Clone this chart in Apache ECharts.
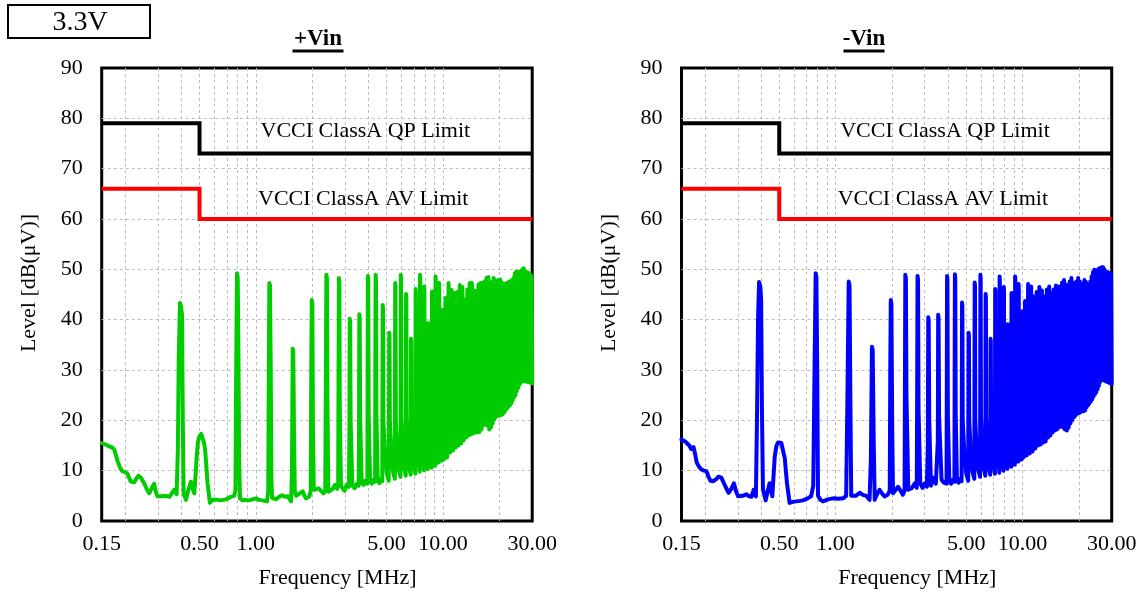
<!DOCTYPE html>
<html>
<head>
<meta charset="utf-8">
<script src="https://cdn.jsdelivr.net/npm/echarts@6/dist/echarts.min.js"></script>
<style>
html,body{margin:0;padding:0;background:#fff;}
#chart{width:1142px;height:598px;}
</style>
</head>
<body>
<div id="chart"></div>
<script>
// ---- data ----
const panelTitles = ['+Vin', '-Vin'];
const voltageTag = '3.3V';
const xTickLabels = [0.15, 0.5, 1, 5, 10, 30];
const xGridValues = [0.2, 0.3, 0.4, 0.5, 0.6, 0.7, 0.8, 0.9, 1, 2, 3, 4, 5, 6, 7, 8, 9, 10, 20];
const qpLimit = [[0.15, 79], [0.5, 79], [0.5, 73], [30, 73]];
const avLimit = [[0.15, 66], [0.5, 66], [0.5, 60], [30, 60]];
const qpLabel = ['VCCI ClassA QP Limit', 3.85, 77.4];
const avLabel = ['VCCI ClassA AV Limit', 3.75, 64.0];

const plusVinTrace = [
[0.150,15.5],[0.157,15.2],[0.165,14.8],[0.171,14.6],[0.175,14.2],[0.182,12.0],[0.188,10.6],[0.193,9.9],[0.200,9.7],[0.206,9.4],[0.214,7.9],[0.224,7.7],[0.231,8.6],[0.236,9.0],[0.243,8.6],[0.248,8.4],[0.253,7.5],[0.262,6.2],[0.269,5.5],[0.278,6.6],[0.286,7.4],[0.291,6.0],[0.298,4.9],[0.310,4.9],[0.331,5.0],[0.345,4.8],[0.352,4.7],[0.366,6.2],[0.377,5.3],[0.383,14.0],[0.387,32.0],[0.393,43.3],[0.398,42.6],[0.403,41.0],[0.407,20.0],[0.411,5.5],[0.423,4.2],[0.433,5.8],[0.441,6.8],[0.450,7.8],[0.460,6.4],[0.469,5.5],[0.476,9.0],[0.483,12.8],[0.490,15.6],[0.499,16.8],[0.510,17.3],[0.519,17.0],[0.528,15.6],[0.536,14.1],[0.552,7.5],[0.568,3.6],[0.585,4.2],[0.599,4.5],[0.625,4.2],[0.650,4.1],[0.691,4.3],[0.735,4.8],[0.766,5.0],[0.778,6.0],[0.785,30.0],[0.793,49.2],[0.800,48.4],[0.806,36.0],[0.814,12.0],[0.823,4.5],[0.849,4.1],[0.880,4.2],[0.923,4.1],[0.960,4.3],[1.002,4.5],[1.040,4.2],[1.088,4.1],[1.148,3.9],[1.165,6.0],[1.173,30.0],[1.181,47.3],[1.190,46.8],[1.200,32.0],[1.212,8.0],[1.221,4.6],[1.283,4.3],[1.330,4.8],[1.380,5.1],[1.430,4.8],[1.480,4.9],[1.543,3.9],[1.560,10.0],[1.574,34.2],[1.585,33.6],[1.600,17.0],[1.615,6.0],[1.641,5.0],[1.700,5.4],[1.780,5.9],[1.820,5.0],[1.857,4.5],[1.933,4.9],[1.965,6.0],[1.978,30.0],[1.990,43.9],[2.005,43.2],[2.020,18.0],[2.040,6.2],[2.100,6.3],[2.160,6.5],[2.230,6.0],[2.300,5.5],[2.350,6.0],[2.368,30.0],[2.382,48.9],[2.398,48.2],[2.412,25.0],[2.440,5.8],[2.500,6.0],[2.580,6.4],[2.650,7.2],[2.720,6.4],[2.755,7.0],[2.768,30.0],[2.779,48.3],[2.795,47.6],[2.810,22.0],[2.850,7.0],[2.920,6.4],[2.980,6.0],[3.060,7.2],[3.140,6.8],[3.160,14.0],[3.176,40.2],[3.192,39.6],[3.210,20.0],[3.280,7.0],[3.370,6.5],[3.470,7.4],[3.545,7.0],[3.560,16.0],[3.573,41.1],[3.590,40.4],[3.610,20.5],[3.680,7.6],[3.770,7.2],[3.850,8.0],[3.945,7.4],[3.958,30.0],[3.970,48.7],[3.988,48.0],[4.010,21.0],[4.080,8.0],[4.170,7.4],[4.260,8.2],[4.340,7.8],[4.352,30.0],[4.367,48.9],[4.385,48.2],[4.410,21.0],[4.480,8.2],[4.570,7.5],[4.660,8.4],[4.740,7.9],
[4.752,25.0],[4.764,42.9],[4.782,42.2],[4.805,20.0],[4.890,14.0],[5.010,9.5],[5.130,8.0],
[5.150,22.0],[5.161,37.4],[5.180,36.8],[5.202,20.0],[5.290,14.0],[5.410,9.8],[5.530,8.4],
[5.546,30.0],[5.558,47.3],[5.578,46.6],[5.600,20.0],[5.690,14.0],[5.810,10.2],[5.930,8.8],
[5.943,30.0],[5.955,48.9],[5.975,48.2],[5.997,20.5],[6.085,14.5],[6.205,10.5],[6.325,9.0],
[6.340,30.0],[6.352,45.1],[6.372,44.4],[6.394,20.5],[6.480,14.5],[6.600,10.7],[6.720,9.2],
[6.737,22.0],[6.749,36.2],[6.770,35.6],[6.790,21.0],[6.880,15.0],[7.000,11.0],[7.120,9.4],
[7.134,30.0],[7.146,46.1],[7.168,45.4],[7.188,24.0],[7.276,19.0],[7.396,13.8],[7.516,9.8],
[7.531,30.0],[7.543,48.9],[7.565,48.2],[7.585,24.0],[7.673,19.0],[7.793,14.1],[7.913,10.1],
[7.928,30.0],[7.940,46.6],[7.962,45.9],[7.982,24.5],[8.070,19.5],[8.190,14.3],[8.310,10.3],
[8.325,25.0],[8.337,39.3],[8.360,38.6],[8.380,24.5],[8.467,19.5],[8.587,14.6],[8.707,10.6],
[8.722,30.0],[8.734,45.6],[8.757,44.9],[8.777,25.0],[8.864,20.0],[8.984,15.0],[9.104,11.0],
[9.119,30.0],[9.131,48.6],[9.155,47.9],[9.175,25.0],[9.261,20.0],[9.381,15.6],[9.501,11.6],
[9.516,30.0],[9.528,47.3],[9.552,46.6],[9.572,25.5],[9.658,20.5],[9.778,16.0],[9.898,12.0],
[9.925,41.9],[9.960,24.0],[10.12,12.2],[10.32,44.3],[10.52,12.6],[10.72,47.3],[10.92,13.6],[11.12,45.9],[11.32,14.0],[11.51,45.3],[11.71,14.6],[11.91,45.5],[12.11,15.0],[12.31,46.9],[12.51,15.4],[12.70,46.5],[12.90,16.0],[13.10,44.0],[13.30,16.6],[13.50,46.0],[13.70,17.0],[13.90,47.3],[14.10,17.2],[14.29,47.3],[14.49,17.4],[14.69,45.8],[14.89,17.6],[15.09,45.6],[15.29,17.6],[15.48,47.0],[15.68,17.7],[15.88,47.3],[16.08,18.2],[16.28,47.3],[16.48,19.0],[16.67,47.6],[16.87,19.4],[17.07,48.3],[17.27,19.0],[17.47,48.5],[17.67,18.2],[17.87,47.0],[18.07,18.6],[18.26,47.5],[18.46,19.4],[18.66,48.3],[18.86,20.2],[19.06,47.9],[19.26,20.7],[19.45,47.7],[19.65,20.9],[19.85,47.9],[20.05,21.0],[20.25,48.0],[20.45,21.0],[20.64,47.4],[20.84,21.2],[21.04,47.0],[21.24,21.5],[21.44,47.1],[21.64,22.0],[21.84,47.3],[22.04,22.4],[22.23,47.4],[22.43,22.7],[22.63,47.6],[22.83,23.0],[23.03,47.7],[23.23,23.4],[23.42,47.9],[23.62,24.0],[23.82,48.3],[24.02,24.6],[24.22,49.2],[24.42,25.0],[24.61,49.5],[24.81,25.8],[25.01,49.5],[25.21,26.4],[25.41,49.4],[25.61,27.0],[25.81,49.5],[26.01,27.4],[26.20,49.7],[26.40,27.7],[26.60,50.0],[26.80,27.8],[27.00,50.2],[27.20,27.8],[27.39,49.8],[27.59,27.7],[27.79,49.5],[27.99,27.7],[28.19,49.4],[28.39,27.6],[28.58,49.3],[28.78,27.6],[28.98,49.1],[29.18,27.5],[29.38,48.9],[29.58,27.4],[29.78,48.6],[30.00,27.3]
];

const minusVinTrace = [
[0.150,16.2],[0.155,15.9],[0.159,15.6],[0.165,15.0],[0.169,14.3],[0.174,14.7],[0.178,13.0],[0.181,11.6],[0.186,10.8],[0.191,10.3],[0.198,10.0],[0.204,9.9],[0.209,8.8],[0.214,8.0],[0.222,7.9],[0.230,8.3],[0.236,8.8],[0.240,9.0],[0.245,8.6],[0.250,8.3],[0.258,6.8],[0.268,5.6],[0.277,6.4],[0.286,7.5],[0.293,6.0],[0.301,4.9],[0.318,5.0],[0.334,5.3],[0.345,4.9],[0.355,4.8],[0.365,6.2],[0.375,4.9],[0.380,20.0],[0.385,40.0],[0.390,47.5],[0.396,46.6],[0.400,44.0],[0.404,22.0],[0.409,6.3],[0.423,4.1],[0.434,6.0],[0.444,7.5],[0.452,6.0],[0.459,4.9],[0.466,9.0],[0.473,12.8],[0.482,14.8],[0.492,15.6],[0.503,15.8],[0.513,15.5],[0.525,13.8],[0.535,12.5],[0.550,7.5],[0.568,3.6],[0.590,3.8],[0.617,3.9],[0.645,4.0],[0.670,4.1],[0.710,4.5],[0.740,4.9],[0.760,7.0],[0.772,30.0],[0.783,49.2],[0.790,48.5],[0.798,30.0],[0.806,5.0],[0.830,4.2],[0.857,3.9],[0.910,4.3],[0.970,4.5],[1.040,4.4],[1.097,4.5],[1.140,5.0],[1.158,25.0],[1.176,47.6],[1.188,46.8],[1.200,25.0],[1.213,5.0],[1.280,5.0],[1.346,5.6],[1.400,5.2],[1.460,5.0],[1.520,4.2],[1.545,12.0],[1.566,34.6],[1.580,34.0],[1.600,16.0],[1.620,4.2],[1.670,5.4],[1.720,6.2],[1.780,5.4],[1.830,4.9],[1.900,5.2],[1.950,6.0],[1.962,30.0],[1.975,43.9],[1.990,43.2],[2.010,18.0],[2.030,5.5],[2.100,6.2],[2.160,6.8],[2.230,6.0],[2.290,5.2],[2.340,6.0],[2.352,30.0],[2.362,48.9],[2.378,48.2],[2.395,25.0],[2.450,6.2],[2.550,6.5],[2.660,7.5],[2.720,6.6],[2.735,30.0],[2.745,48.7],[2.762,48.0],[2.780,22.0],[2.840,7.5],[2.920,6.6],[3.000,7.5],[3.080,6.8],[3.115,15.0],[3.133,40.5],[3.150,39.8],[3.170,20.0],[3.240,7.0],[3.330,8.6],[3.440,7.4],[3.510,7.2],[3.525,16.0],[3.540,41.0],[3.557,40.3],[3.580,20.5],[3.690,8.2],[3.800,7.6],[3.925,7.4],[3.938,30.0],[3.950,48.7],[3.968,48.0],[3.990,21.0],[4.060,8.0],[4.150,7.4],[4.240,8.2],[4.325,7.8],[4.337,30.0],[4.350,49.0],[4.368,48.3],[4.395,21.0],[4.460,8.2],[4.550,7.6],[4.640,8.4],[4.725,7.9],
[4.737,25.0],[4.750,43.4],[4.768,42.7],[4.790,20.0],[4.880,14.0],[5.000,9.5],[5.125,8.0],
[5.137,22.0],[5.150,37.4],[5.168,36.8],[5.190,20.0],[5.280,14.0],[5.400,9.8],[5.525,8.4],
[5.537,30.0],[5.550,47.4],[5.570,46.7],[5.592,20.0],[5.685,14.0],[5.805,10.2],[5.930,8.8],
[5.943,30.0],[5.955,48.9],[5.975,48.2],[5.997,20.5],[6.085,14.5],[6.205,10.5],[6.325,9.0],
[6.340,30.0],[6.352,45.1],[6.372,44.4],[6.394,20.5],[6.480,14.5],[6.600,10.7],[6.720,9.2],
[6.737,22.0],[6.749,36.2],[6.770,35.6],[6.790,21.0],[6.880,15.0],[7.000,11.0],[7.120,9.4],
[7.134,30.0],[7.146,46.1],[7.168,45.4],[7.188,24.0],[7.276,19.0],[7.396,13.6],[7.516,9.6],
[7.531,30.0],[7.543,48.6],[7.565,47.9],[7.585,24.0],[7.673,19.0],[7.793,14.0],[7.913,10.0],
[7.928,30.0],[7.940,46.5],[7.962,45.8],[7.982,24.5],[8.070,19.5],[8.190,14.4],[8.310,10.4],
[8.325,25.0],[8.337,39.1],[8.360,38.4],[8.380,24.5],[8.467,19.5],[8.587,14.8],[8.707,10.8],
[8.722,30.0],[8.734,45.3],[8.757,44.6],[8.777,25.0],[8.864,20.0],[8.984,15.2],[9.104,11.2],
[9.119,30.0],[9.131,48.6],[9.155,47.9],[9.175,25.0],[9.261,20.0],[9.381,15.8],[9.501,11.8],
[9.516,30.0],[9.528,47.1],[9.552,46.4],[9.572,25.5],[9.658,20.5],[9.778,16.2],[9.898,12.2],
[9.925,41.6],[9.960,24.0],[10.12,12.6],[10.32,43.7],[10.52,13.0],[10.72,47.1],[10.92,13.4],[11.12,46.6],[11.32,13.8],[11.51,44.6],[11.71,14.4],[11.91,45.5],[12.11,15.0],[12.31,46.5],[12.51,15.2],[12.70,45.8],[12.90,15.6],[13.10,44.6],[13.30,15.8],[13.50,46.0],[13.70,16.6],[13.90,46.6],[14.10,17.0],[14.29,45.3],[14.49,17.6],[14.69,46.0],[14.89,18.0],[15.09,46.8],[15.29,18.2],[15.48,46.6],[15.68,18.6],[15.88,46.6],[16.08,18.8],[16.28,47.4],[16.48,18.6],[16.67,47.9],[16.87,18.2],[17.07,47.0],[17.27,18.0],[17.47,46.6],[17.67,18.6],[17.87,47.6],[18.07,19.4],[18.26,48.3],[18.46,20.0],[18.66,47.4],[18.86,20.6],[19.06,46.8],[19.26,21.0],[19.45,47.6],[19.65,21.3],[19.85,48.3],[20.05,21.4],[20.25,47.6],[20.45,21.6],[20.64,46.6],[20.84,21.8],[21.04,47.2],[21.24,21.8],[21.44,47.9],[21.64,22.0],[21.84,47.5],[22.04,22.6],[22.23,46.8],[22.43,23.0],[22.63,47.0],[22.83,23.4],[23.03,47.6],[23.23,23.8],[23.42,48.6],[23.62,24.2],[23.82,49.4],[24.02,24.8],[24.22,49.9],[24.42,25.2],[24.61,49.6],[24.81,25.6],[25.01,49.8],[25.21,26.2],[25.41,50.0],[25.61,26.8],[25.81,50.2],[26.01,27.6],[26.20,50.3],[26.40,28.0],[26.60,50.4],[26.80,28.2],[27.00,50.4],[27.20,28.0],[27.39,50.0],[27.59,27.8],[27.79,49.6],[27.99,27.7],[28.19,49.5],[28.39,27.6],[28.58,49.4],[28.78,27.6],[28.98,49.3],[29.18,27.4],[29.38,49.2],[29.58,27.3],[29.78,49.0],[30.00,27.2]
];

// ---- styling / layout ----
const FONT = "'Times New Roman', 'Liberation Serif', serif";
const traceColors = ['#00cc00', '#0000ff'];
const grids = [
  { left: 101.7, right: 609.8, top: 68, bottom: 77 },
  { left: 681.5, right: 30.3, top: 68, bottom: 77 }
];
const gridLineStyle = { color: '#bdbdbd', width: 1, type: [3, 3] };

const chart = echarts.init(document.getElementById('chart'), null, { renderer: 'canvas' });

const xAxes = [], yAxes = [], series = [];
[plusVinTrace, minusVinTrace].forEach((trace, i) => {
  xAxes.push({
    type: 'log', logBase: 10, gridIndex: i, min: 0.15, max: 30,
    axisLine: { show: false },
    axisTick: { show: false, customValues: xGridValues },
    axisLabel: {
      customValues: xTickLabels,
      formatter: v => Number(v).toFixed(2),
      fontFamily: FONT, fontSize: 22, color: '#000', margin: 12
    },
    splitLine: { show: true, lineStyle: gridLineStyle }
  });
  yAxes.push({
    type: 'value', gridIndex: i, min: 0, max: 90, interval: 10,
    axisLine: { show: false }, axisTick: { show: false },
    axisLabel: { fontFamily: FONT, fontSize: 22, color: '#000', margin: 19 },
    splitLine: { show: true, showMinLine: false, showMaxLine: false, lineStyle: gridLineStyle }
  });
  const labelStyle = { show: true, position: 'inside', fontFamily: FONT, fontSize: 22, color: '#000' };
  series.push({
    type: 'line', xAxisIndex: i, yAxisIndex: i, data: qpLimit,
    symbol: 'none', lineStyle: { color: '#000', width: 4, join: 'miter' },
    markPoint: {
      symbol: 'circle', symbolSize: 1, itemStyle: { color: 'rgba(0,0,0,0)' },
      label: labelStyle,
      data: [{ coord: [qpLabel[1], qpLabel[2]], label: { formatter: qpLabel[0] } }]
    },
    z: 3
  });
  series.push({
    type: 'line', xAxisIndex: i, yAxisIndex: i, data: avLimit,
    symbol: 'none', lineStyle: { color: '#ff0000', width: 4, join: 'miter' },
    markPoint: {
      symbol: 'circle', symbolSize: 1, itemStyle: { color: 'rgba(0,0,0,0)' },
      label: labelStyle,
      data: [{ coord: [avLabel[1], avLabel[2]], label: { formatter: avLabel[0] } }]
    },
    z: 3
  });
  series.push({
    type: 'line', xAxisIndex: i, yAxisIndex: i, data: trace,
    symbol: 'none', showSymbol: false,
    lineStyle: { color: traceColors[i], width: 4, join: 'round', cap: 'round' },
    z: 4
  });
});

const titleCenters = [318, 864];
const titleHalfWidths = [25.5, 20.5];
const xNameCenters = [337.5, 917.3];
const yNameCenters = [29, 609];
const graphic = [
  { type: 'rect', shape: { x: 8, y: 5, width: 142, height: 33 },
    style: { fill: '#fff', stroke: '#000', lineWidth: 2 } },
  { type: 'text', x: 80, y: 22.5,
    style: { text: voltageTag, font: "28px " + FONT, fill: '#000', align: 'center', verticalAlign: 'middle' } }
];
panelTitles.forEach((t, i) => {
  graphic.push({ type: 'text', x: titleCenters[i], y: 39.5,
    style: { text: t, font: "bold 23px " + FONT, fill: '#000', align: 'center', verticalAlign: 'middle' } });
  graphic.push({ type: 'rect',
    shape: { x: titleCenters[i] - titleHalfWidths[i], y: 49.5, width: titleHalfWidths[i] * 2, height: 3 },
    style: { fill: '#000' } });
  graphic.push({ type: 'text', x: xNameCenters[i], y: 578.6,
    style: { text: 'Frequency [MHz]', font: "22px " + FONT, fill: '#000', align: 'center', verticalAlign: 'middle' } });
  graphic.push({ type: 'text', x: yNameCenters[i], y: 283, rotation: Math.PI / 2,
    style: { text: 'Level [dB(μV)]', font: "22px " + FONT, fill: '#000', align: 'center', verticalAlign: 'middle' } });
});

chart.setOption({
  animation: false,
  backgroundColor: '#fff',
  grid: grids.map(g => Object.assign({ show: true, borderColor: '#000', borderWidth: 3, backgroundColor: 'transparent', containLabel: false }, g)),
  xAxis: xAxes,
  yAxis: yAxes,
  series: series,
  graphic: graphic
});
</script>
</body>
</html>
